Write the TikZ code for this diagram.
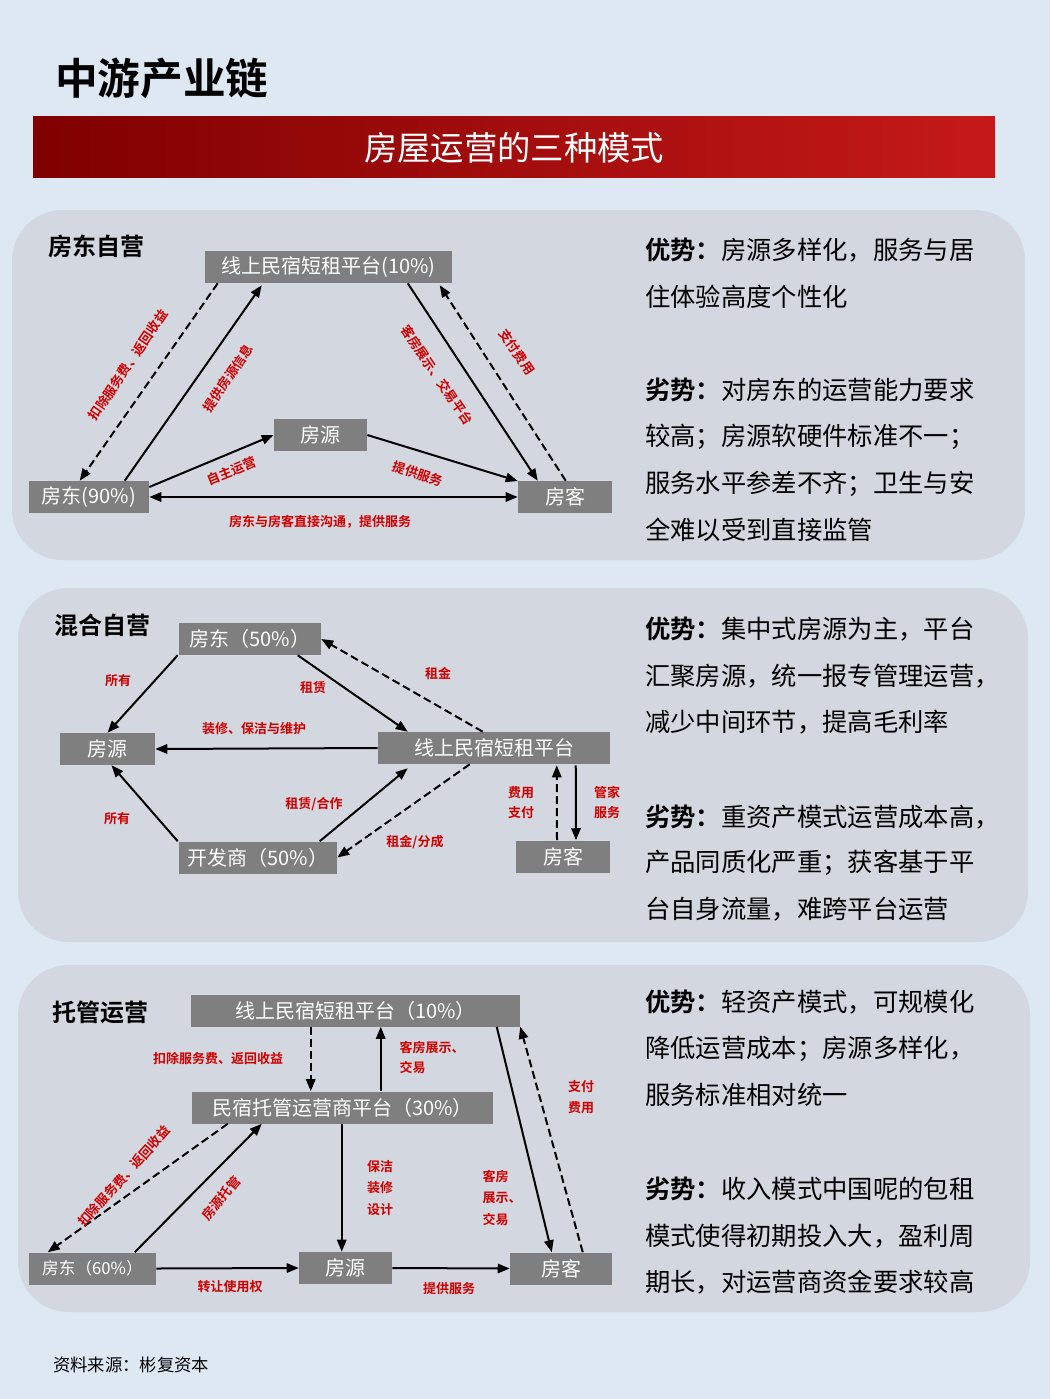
\documentclass[tikz,border=0pt]{standalone}
\usepackage{fontspec}
\setmainfont{Liberation Sans}
\newfontfamily\cjk{Noto Sans CJK SC}
\newfontfamily\cjkb{Noto Sans CJK SC Bold}
\usetikzlibrary{calc,arrows.meta}
\definecolor{bg}{HTML}{DDE8F3}
\definecolor{panel}{HTML}{D3D7DF}
\definecolor{gb}{HTML}{7F7F7F}
\definecolor{lab}{HTML}{D00000}
\begin{document}
\begin{tikzpicture}[x=0.75pt,y=-0.75pt,
 gbox/.style={fill=gb,text=white,font=\cjk\fontsize{15}{15}\selectfont,minimum height=24pt,inner sep=0pt},
 ar/.style={line width=1.5pt,-{Triangle[length=9pt,width=7pt]}},
 da/.style={ar,dashed,dash pattern=on 6pt off 3pt},
 dar/.style={line width=1.5pt,{Triangle[length=9pt,width=7pt]}-{Triangle[length=9pt,width=7pt]}},
 lb/.style={text=lab,font=\cjkb\fontsize{9.75}{10}\selectfont,inner sep=1pt},
 rt/.style={anchor=west,font=\cjk\fontsize{19}{19}\selectfont,inner sep=0pt},
 hd/.style={anchor=west,font=\cjkb\fontsize{18}{18}\selectfont,inner sep=0pt},
 pn/.style={fill=panel,rounded corners=38pt}]
\useasboundingbox (0,0) rectangle (1050,1399);
\fill[bg] (0,0) rectangle (1050,1399);
\node[anchor=west,font=\cjkb\fontsize{32}{32}\selectfont,inner sep=0pt] (title) at (55,78) {中游产业链};
\shade[left color=red!50!black,right color=red!75!black!90!white] (33,116) rectangle (995,177);
\node[text=white,font=\cjk\fontsize{25}{25}\selectfont] (ban) at (514,148) {房屋运营的三种模式};
\node[anchor=west,font=\cjk\itshape\fontsize{13}{13}\selectfont,inner sep=0pt] (src) at (53,1365) {资料来源：彬复资本};
% panels
\fill[pn] (12,210) rectangle (1025,560);
\fill[pn] (18,588) rectangle (1028,942);
\fill[pn] (18,965) rectangle (1030,1312);
% ===== Panel 1
\node[hd] (h1) at (48,246) {房东自营};
\node[gbox,minimum width=185.25pt] (p1) at (328.5,267) {线上民宿短租平台(10\%)};
\node[gbox,minimum width=69.75pt] (y1) at (320.5,435) {房源};
\node[gbox,minimum width=90pt] (d1) at (89,497) {房东(90\%)};
\node[gbox,minimum width=70.5pt] (k1) at (565,497) {房客};
\draw[da] ($(p1.south west)+(13,0)$) -- ($(d1.north west)+(51,0)$);
\draw[ar] ($(d1.north west)+(96,0)$) -- ($(p1.south west)+(57,2)$);
\draw[ar] ($(p1.south west)+(203,0)$) -- ($(k1.north west)+(20,0)$);
\draw[da] ($(k1.north west)+(48,0)$) -- ($(p1.south west)+(235,2)$);
\draw[ar] ($(d1.east)+(0,-10)$) -- (y1.west);
\draw[ar] (y1.east) -- ($(k1.west)+(0,-16)$);
\draw[dar] (d1.east) -- (k1.west);
\node[lb,rotate=56] (l11) at (128,365) {扣除服务费、返回收益};
\node[lb,rotate=56] (l12) at (228,378) {提供房源信息};
\node[lb,rotate=-56] (l13) at (437,375) {客房展示、交易平台};
\node[lb,rotate=-56] (l14) at (517,352) {支付费用};
\node[lb,rotate=22] (l15) at (232,471) {自主运营};
\node[lb,rotate=-18] (l16) at (418,474) {提供服务};
\node[lb] (l17) at (320,522) {房东与房客直接沟通，提供服务};
\node[rt] (r11) at (645,250) {\cjkb 优势：\cjk 房源多样化，服务与居};
\node[rt] (r12) at (645,297) {住体验高度个性化};
\node[rt] (r13) at (645,390) {\cjkb 劣势：\cjk 对房东的运营能力要求};
\node[rt] (r14) at (645,437) {较高；房源软硬件标准不一；};
\node[rt] (r15) at (645,484) {服务水平参差不齐；卫生与安};
\node[rt] (r16) at (645,530) {全难以受到直接监管};
% ===== Panel 2
\node[hd] (h2) at (54,625) {混合自营};
\node[gbox,minimum width=106.5pt] (d2) at (250,639) {房东（50\%）};
\node[gbox,minimum width=71.25pt] (y2) at (107.5,749) {房源};
\node[gbox,minimum width=174pt] (p2) at (494,748) {线上民宿短租平台};
\node[gbox,minimum width=118.5pt] (f2) at (258,857.5) {开发商（50\%）};
\node[gbox,minimum width=70.5pt] (k2) at (563,856.5) {房客};
\draw[ar] ($(d2.south west)+(-1,0)$) -- ($(y2.north)+(0,0)$);
\draw[ar] ($(d2.south west)+(119,0)$) -- ($(p2.north west)+(30,0)$);
\draw[da] ($(p2.north west)+(105,0)$) -- (d2.east);
\draw[ar] (p2.west) -- (y2.east);
\draw[ar] ($(f2.north west)+(-1,0)$) -- ($(y2.south)+(4,0)$);
\draw[ar] ($(f2.north west)+(141,0)$) -- ($(p2.south west)+(30,4)$);
\draw[da] ($(p2.south west)+(92,0)$) -- (f2.east);
\draw[da] ($(k2.north)+(-6,0)$) -- ($(p2.south west)+(179,1)$);
\draw[ar] ($(p2.south west)+(198,1)$) -- ($(k2.north)+(13,0)$);
\node[lb] (l21) at (118,681) {所有};
\node[lb] (l22) at (313,688) {租赁};
\node[lb] (l23) at (438,673) {租金};
\node[lb] (l24) at (254,729) {装修、保洁与维护};
\node[lb] (l25) at (117,819) {所有};
\node[lb] (l26) at (314,804) {租赁/合作};
\node[lb] (l27) at (415,842) {租金/分成};
\node[lb,align=center] (l28) at (521,803) {费用\\[5pt]支付};
\node[lb,align=center] (l29) at (607,802) {管家\\[5pt]服务};
\node[rt] (r21) at (645,629) {\cjkb 优势：\cjk 集中式房源为主，平台};
\node[rt] (r22) at (645,676) {汇聚房源，统一报专管理运营，};
\node[rt] (r23) at (645,722) {减少中间环节，提高毛利率};
\node[rt] (r24) at (645,817) {\cjkb 劣势：\cjk 重资产模式运营成本高，};
\node[rt] (r25) at (645,863) {产品同质化严重；获客基于平};
\node[rt] (r26) at (645,909) {台自身流量，难跨平台运营};
% ===== Panel 3
\node[hd] (h3) at (52,1012) {托管运营};
\node[gbox,minimum width=246.75pt] (p3) at (355.5,1010.5) {线上民宿短租平台（10\%）};
\node[gbox,minimum width=225.75pt] (t3) at (342.5,1107.5) {民宿托管运营商平台（30\%）};
\node[gbox,minimum width=95.25pt,font=\cjk\fontsize{12.5}{13}\selectfont] (d3) at (92.5,1268.5) {房东（60\%）};
\node[gbox,minimum width=69.75pt] (y3) at (345.5,1268) {房源};
\node[gbox,minimum width=76.5pt] (k3) at (561,1268.5) {房客};
\draw[da] ($(p3.south west)+(120,0)$) -- ($(t3.north west)+(119,0)$);
\draw[ar] ($(t3.north west)+(189,0)$) -- ($(p3.south west)+(190,0)$);
\draw[da] ($(t3.south west)+(36,0)$) -- ($(d3.north west)+(19,0)$);
\draw[ar] ($(d3.north west)+(106,0)$) -- ($(t3.south west)+(70,0)$);
\draw[ar] ($(t3.south west)+(150,0)$) -- (y3.north -| {$(t3.south west)+(150,0)$});
\draw[ar] (d3.east) -- (y3.west);
\draw[ar] (y3.east) -- (k3.west);
\draw[ar] ($(p3.south west)+(306,0)$) -- ($(k3.north west)+(42,0)$);
\draw[da] ($(k3.north west)+(73,0)$) -- ($(p3.south east)+(0,0)$);
\node[lb] (l31) at (218,1058) {扣除服务费、返回收益};
\node[lb,align=left] (l32) at (432,1058) {客房展示、\\[5pt]交易};
\node[lb,rotate=48] (l33) at (124,1176) {扣除服务费、返回收益};
\node[lb,rotate=50] (l34) at (221,1198) {房源托管};
\node[lb,align=center] (l35) at (380,1188) {保洁\\[6pt]装修\\[6pt]设计};
\node[lb] (l36) at (230,1287) {转让使用权};
\node[lb] (l37) at (449,1289) {提供服务};
\node[lb,align=center] (l38) at (581,1097) {支付\\[6pt]费用};
\node[lb,align=left] (l39) at (502,1198) {客房\\[6pt]展示、\\[6pt]交易};
\node[rt] (r31) at (645,1002) {\cjkb 优势：\cjk 轻资产模式，可规模化};
\node[rt] (r32) at (645,1049) {降低运营成本；房源多样化，};
\node[rt] (r33) at (645,1095) {服务标准相对统一};
\node[rt] (r34) at (645,1189) {\cjkb 劣势：\cjk 收入模式中国呢的包租};
\node[rt] (r35) at (645,1236) {模式使得初期投入大，盈利周};
\node[rt] (r36) at (645,1282) {期长，对运营商资金要求较高};
\end{tikzpicture}
\end{document}
